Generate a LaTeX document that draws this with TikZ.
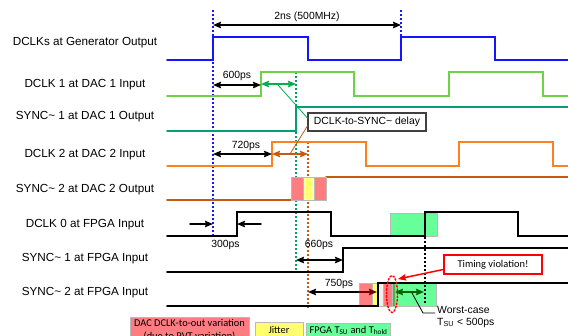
\documentclass[tikz,border=0pt]{standalone}
\usepackage{fontspec}
\setmainfont{Liberation Sans}
\newfontfamily\calfont{Carlito}
\usepackage{tikz}
\usetikzlibrary{arrows.meta}
\usepackage{xcolor}
\definecolor{genblue}{RGB}{20,20,255}
\definecolor{dclkgreen}{RGB}{110,210,70}
\definecolor{syncteal}{RGB}{0,160,115}
\definecolor{dclkorange}{RGB}{255,128,32}
\definecolor{syncbrown}{RGB}{197,90,17}
\definecolor{dlygreen}{RGB}{0,176,80}
\definecolor{pvtred}{RGB}{255,124,128}
\definecolor{jityellow}{RGB}{255,255,110}
\definecolor{holdgreen}{RGB}{102,255,153}
\definecolor{tsugreen}{RGB}{0,100,0}

\begin{document}
\begin{tikzpicture}[x=1pt,y=-1pt,>={Stealth[length=8pt,width=6.5pt,inset=1pt]},line cap=round,
  font=\fontsize{11.7}{14}\selectfont,
  sig/.style={line width=1.6pt},
  tick/.style={line width=1.5pt,dash pattern=on 1.5pt off 2.5pt,line cap=butt},
  span/.style={<->,line width=1.4pt},
  lbl/.style={font=\fontsize{10.4}{12}\selectfont},
  band/.style={draw=gray!55,line width=0.8pt},
  legbox/.style={draw=gray!55,line width=0.8pt,inner ysep=2pt,font={\calfont\fontsize{10.4}{12.5}\selectfont}}]
\useasboundingbox (0,0) rectangle (568,335);
\clip (0,0) rectangle (568,335);
% signal names
\node (gen)   at (85,43)  {DCLKs at Generator Output};
\node (dac1)  at (85,85)  {DCLK 1 at DAC 1 Input};
\node (sync1) at (85,117) {SYNC\textasciitilde{} 1 at DAC 1 Output};
\node (dac2)  at (85,155) {DCLK 2 at DAC 2 Input};
\node (sync2) at (85,190) {SYNC\textasciitilde{} 2 at DAC 2 Output};
\node (fpga0) at (85,225) {DCLK 0 at FPGA Input};
\node (fsync1) at (85,259) {SYNC\textasciitilde{} 1 at FPGA Input};
\node (fsync2) at (85,293) {SYNC\textasciitilde{} 2 at FPGA Input};
% reference edges
\draw[tick,genblue] (213,10) -- (213,236);
\draw[tick,genblue] (401,10) -- (401,60);
\draw[tick,syncteal] (296,72) -- (296,273);
\draw[tick,syncbrown] (308,142) -- (308,308);
% waveforms
\draw[sig,genblue] (167,60) -- (213,60) -- (213,37) -- (308,37) -- (308,60) -- (401,60) -- (401,37) -- (495,37) -- (495,60) -- (568,60);
\draw[sig,dclkgreen] (167,96) -- (261,96) -- (261,72) -- (354,72) -- (354,96) -- (449,96) -- (449,72) -- (543,72) -- (543,96) -- (568,96);
\draw[sig,syncteal] (167,131) -- (296,131) -- (296,107) -- (568,107);
\draw[sig,dclkorange] (167,166) -- (272,166) -- (272,142) -- (366,142) -- (366,166) -- (459,166) -- (459,142) -- (553,142) -- (553,166) -- (568,166);
\draw[sig,syncbrown] (167,200) -- (291,200);
\draw[sig,syncbrown] (326,177) -- (568,177);
\filldraw[band,fill=holdgreen] (390,213) rectangle (437,236);
\draw[sig] (167,236) -- (237,236) -- (237,212) -- (331,212) -- (331,236) -- (425,236) -- (425,212) -- (518,212) -- (518,236) -- (568,236);
\draw[sig] (167,272) -- (343,272) -- (343,248) -- (568,248);
% uncertainty windows
\filldraw[band,fill=pvtred] (291,177) rectangle (326,200);
\filldraw[band,fill=jityellow!60] (303,177) rectangle (314,200);
\fill[jityellow] (306,178) rectangle (311,199);
\filldraw[band,fill=pvtred] (359,283) rectangle (372,306);
\filldraw[band,fill=jityellow] (372,283) rectangle (377,306);
\filldraw[band,fill=gray!12] (377,283) rectangle (383,306);
\filldraw[band,fill=pvtred] (383,283) rectangle (392,306);
\filldraw[band,fill=green!45!gray] (392,283) rectangle (395,306);
\filldraw[band,fill=holdgreen] (395,283) rectangle (436,306);
\draw[sig] (167,306) -- (378,306) -- (378,283) -- (568,283);
\draw[tick] (425,213) -- (425,305);
% timing spans
\draw[span] (213,25) -- (401,25);
\node[lbl] (period) at (307,17) {2ns (500MHz)};
\draw[span] (213,85) -- (261,85);
\node[lbl] (t600) at (237,76) {600ps};
\draw[span,dlygreen] (261,84) -- (296,84);
\draw[span] (213,154) -- (272,154);
\node[lbl] (t720) at (246,146) {720ps};
\draw[span,syncbrown] (272,154) -- (308,154);
\draw[->,line width=1.4pt] (190,224) -- (213,224);
\draw[->,line width=1.4pt] (261,224) -- (237,224);
\node[lbl] (t300) at (225.5,245) {300ps};
\draw[span] (296,260) -- (343,260);
\node[lbl] (t660) at (319,245) {660ps};
\draw[<-,line width=1.4pt] (308,292) -- (359,292);
\draw[->,line width=1.4pt,red!45!black] (359,292) -- (377,292);
\node[lbl] (t750) at (339,284) {750ps};
\draw[span,tsugreen] (395,292) -- (424,292);
% callouts
\node[lbl,draw=black!75,line width=1.2pt,minimum width=118pt,minimum height=18pt] (dly) at (367,122) {DCLK-to-SYNC\textasciitilde{} delay};
\draw[dlygreen,line width=0.8pt] (278,85) -- ([yshift=4pt]dly.west);
\draw[syncbrown,line width=0.8pt] (290,154) -- ([yshift=-4pt]dly.west);
\draw[red,line width=1.5pt,dash pattern=on 1.5pt off 2pt] (392,294) ellipse [x radius=5.5pt,y radius=18.5pt];
\node[draw=red,line width=1.5pt,minimum width=98pt,minimum height=19pt,font={\calfont\fontsize{10.4}{12}\selectfont}] (viol) at (493,264.5) {Timing violation!};
\draw[->,red,line width=1.5pt] ([yshift=-5pt]viol.west) -- (398,279);
\node[lbl,align=left,anchor=north west,inner sep=0pt] (worst) at (437,306) {Worst-case\\T\textsubscript{SU} < 500ps};
\draw[line width=0.8pt] (412,293) -- (423,313) -- ([shift={(-2pt,-7pt)}]worst.north west);
% legend
\node[legbox,fill=pvtred,minimum width=119pt,anchor=north,align=center] (pvt) at (189.5,317) {DAC DCLK-to-out variation\\(due to PVT variation)};
\node[legbox,fill=jityellow,minimum width=48pt,minimum height=15pt,anchor=north] (jit) at (279,322) {Jitter};
\node[legbox,fill=holdgreen,minimum width=83pt,minimum height=14pt,anchor=north] (hold) at (348.5,323) {FPGA T\textsubscript{SU} and T\textsubscript{hold}};
\end{tikzpicture}
\end{document}
